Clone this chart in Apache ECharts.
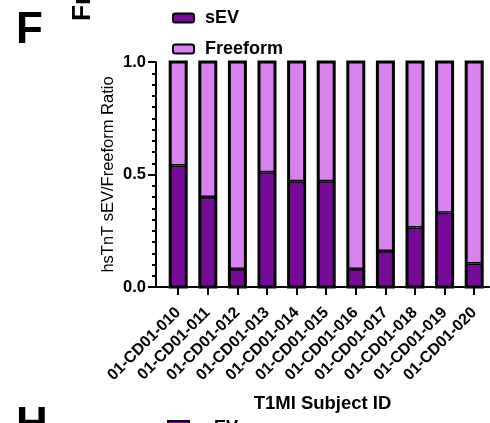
<!DOCTYPE html>
<html><head><meta charset="utf-8">
<script src="https://cdn.jsdelivr.net/npm/echarts@6/dist/echarts.min.js"></script>
<style>html,body{margin:0;padding:0;background:#fff}#c{width:490px;height:423px}</style>
</head><body><div id="c"></div>
<script>
const subjects = ['01-CD01-010','01-CD01-011','01-CD01-012','01-CD01-013','01-CD01-014','01-CD01-015','01-CD01-016','01-CD01-017','01-CD01-018','01-CD01-019','01-CD01-020'];
const sevRatio      = [0.54, 0.40, 0.08, 0.51, 0.47, 0.47, 0.08, 0.16, 0.265, 0.33, 0.105];
const freeformRatio = [0.46, 0.60, 0.92, 0.49, 0.53, 0.53, 0.92, 0.84, 0.735, 0.67, 0.895];
const yTicks = [0, 0.5, 1.0];
const seriesNames = ['sEV', 'Freeform'];

const FONT = "'Liberation Sans', Arial, sans-serif";
const SEV_COLOR = '#770A99';
const FREE_COLOR = '#D982EF';
const idx = subjects.map((_, i) => i);

const chart = echarts.init(document.getElementById('c'), null, {renderer: 'canvas'});
chart.setOption({
  animation: false,
  backgroundColor: '#fff',
  textStyle: {fontFamily: FONT},
  legend: {
    orient: 'vertical', left: 167, top: 4,
    itemWidth: 21, itemHeight: 9, itemGap: 13,
    data: seriesNames,
    itemStyle: {borderColor: '#000', borderWidth: 2},
    textStyle: {fontSize: 18, fontWeight: 'bold', color: '#000', padding: [0, 0, 0, 6], fontFamily: FONT}
  },
  grid: {left: 156, right: 1, top: 62, bottom: 136, containLabel: false},
  xAxis: {
    type: 'value', min: -0.75, max: 10.5,
    name: 'T1MI Subject ID', nameLocation: 'middle', nameGap: 107,
    nameTextStyle: {fontSize: 18.5, fontWeight: 'bold', color: '#000', fontFamily: FONT},
    axisLine: {show: true, onZero: false, lineStyle: {color: '#000', width: 2}},
    axisTick: {show: true, length: 8, lineStyle: {color: '#000', width: 2}, customValues: idx},
    axisLabel: {customValues: idx, formatter: v => subjects[Math.round(v)], rotate: 45,
      fontSize: 16, fontWeight: 'bold', color: '#000', margin: 23, fontFamily: FONT},
    splitLine: {show: false}
  },
  yAxis: {
    type: 'value', min: yTicks[0], max: yTicks[yTicks.length - 1], interval: yTicks[1] - yTicks[0],
    name: 'hsTnT sEV/Freeform Ratio', nameLocation: 'middle', nameGap: 39, nameRotate: 90,
    nameMoveOverlap: false,
    nameTextStyle: {fontSize: 16.5, color: '#000', fontFamily: FONT},
    axisLine: {show: true, onZero: false, lineStyle: {color: '#000', width: 2}},
    axisTick: {show: true, length: 8, lineStyle: {color: '#000', width: 2}},
    minorTick: {show: true, splitNumber: 10, length: 4, lineStyle: {color: '#000', width: 2}},
    axisLabel: {formatter: v => v.toFixed(1), fontSize: 16.5, fontWeight: 'bold', color: '#000', margin: 10, fontFamily: FONT},
    splitLine: {show: false}, minorSplitLine: {show: false}
  },
  series: [
    {name: seriesNames[0], type: 'bar', stack: 'ratio', barWidth: 16,
      encode: {x: 1, y: 0},
      showBackground: true,
      backgroundStyle: {color: 'rgba(0,0,0,0)', borderColor: '#000', borderWidth: 3},
      data: sevRatio.map((v, i) => [v, i]),
      itemStyle: {color: SEV_COLOR, borderColor: '#000', borderWidth: 1.5}},
    {name: seriesNames[1], type: 'bar', stack: 'ratio', barWidth: 16,
      encode: {x: 1, y: 0},
      data: freeformRatio.map((v, i) => [v, i]),
      itemStyle: {color: FREE_COLOR, borderColor: '#000', borderWidth: 1.5}}
  ],
  graphic: [
    {type: 'text', x: 16, y: 31, style: {text: 'F', fontSize: 44, fontWeight: 'bold', fontFamily: FONT, fill: '#000', align: 'left', verticalAlign: 'middle'}},
    {type: 'text', x: 83, y: 21, rotation: Math.PI / 2, style: {text: 'Fraction', fontSize: 26, fontWeight: 'bold', fontFamily: FONT, fill: '#000', align: 'left', verticalAlign: 'middle'}},
    {type: 'text', x: 16, y: 426, style: {text: 'H', fontSize: 44, fontWeight: 'bold', fontFamily: FONT, fill: '#000', align: 'left', verticalAlign: 'middle'}},
    {type: 'rect', shape: {x: 168, y: 421, width: 21, height: 9}, style: {fill: SEV_COLOR, stroke: '#000', lineWidth: 2}},
    {type: 'text', x: 204, y: 428, style: {text: 'sEV', fontSize: 18, fontWeight: 'bold', fontFamily: FONT, fill: '#000', align: 'left', verticalAlign: 'middle'}}
  ]
});
</script>
</body></html>
